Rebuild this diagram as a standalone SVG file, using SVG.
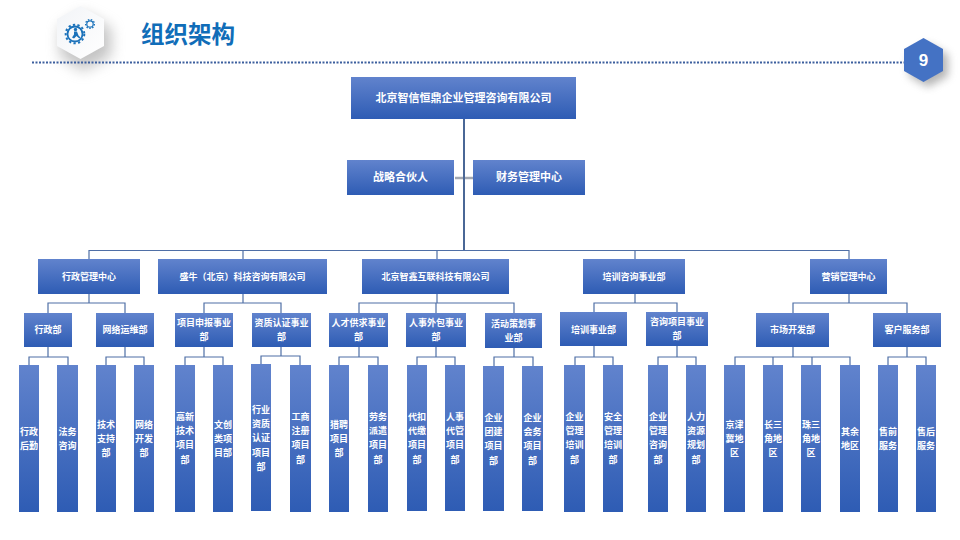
<svg xmlns="http://www.w3.org/2000/svg" width="960" height="540" viewBox="0 0 960 540">
<style>
text{font-family:"Noto Sans CJK SC","Noto Sans",sans-serif;font-weight:700;fill:#fff;text-anchor:middle}
.n{fill:url(#g)}
.t{font-size:11px}
.s{font-size:9px}
.c{fill:none;stroke:#4f6fa6;stroke-width:1.2}
.k{fill:none;stroke:#4a6796;stroke-width:2}
.i{fill:none;stroke:#1b72ba}
</style>
<defs>
<linearGradient id="g" x1="0" y1="0" x2="0" y2="1"><stop offset="0" stop-color="#6183cd"/><stop offset="1" stop-color="#2e5cb4"/></linearGradient>
<linearGradient id="h" x1="0" y1="0" x2="1" y2="1"><stop offset="0" stop-color="#f2f4f7"/><stop offset="1" stop-color="#ffffff"/></linearGradient>
<filter id="b" x="-50%" y="-50%" width="200%" height="200%"><feGaussianBlur stdDeviation="7"/></filter>
<filter id="b2" x="-50%" y="-50%" width="200%" height="200%"><feGaussianBlur stdDeviation="4"/></filter>
</defs>
<rect width="960" height="540" fill="#fff"/>
<g id="header">
<polygon points="83,13 111,28 111,56 83,71 60,56 60,28" fill="#8a8a8a" opacity=".5" filter="url(#b)"/>
<polygon points="80.500,6 104,19 104,46 80.500,59 57,46 57,19" fill="url(#h)"/>
<g id="logo-icon">
<circle cx="75" cy="34" r="7.500" class="i" stroke-width="1.800"/>
<circle cx="75" cy="34" r="9.300" class="i" stroke-width="2" stroke-dasharray="2.300 2.300"/>
<circle cx="90" cy="24" r="3.200" class="i" stroke-width="1.200"/>
<circle cx="90" cy="24" r="4.400" class="i" stroke-width="1.300" stroke-dasharray="1.500 1.500"/>
<circle cx="75.500" cy="29.500" r="1.700" fill="#1b72ba"/>
<path d="M74 31.500h3l1.500 4 2 2-1.200 1-2.800-2.500-2.500 2.500-2-1 2-3z" fill="#1b72ba"/>
</g>
<text x="188" y="43" font-size="23.500" style="fill:#106db8;font-size:23.500px">组织架构</text>
<line x1="32" y1="62.500" x2="905" y2="62.500" stroke="#3c5f9e" stroke-width="2" stroke-dasharray="2 1.500"/>
</g>
<g id="page-number">
<polygon points="928,44 948,55 948,76 928,87 909,76 909,55" fill="#777" opacity=".55" filter="url(#b2)"/>
<polygon points="923.500,38 943,49 943,71 923.500,82 904,71 904,49" fill="#4472c4"/>
<text x="923.500" y="66" style="font-size:17px;font-family:'Liberation Sans',sans-serif">9</text>
</g>
<g id="connectors">
<path d="M455 178H473" fill="none" stroke="#a3a8b2" stroke-width="2.500"/>
<path class="k" d="M464 119V250"/>
<path class="c" d="M89 259V250.500H849V259M243 250.500V259M437 250.500V259M635 250.500V259"/>
<path class="c" d="M89 294V303M48 313V303H125V313"/>
<path class="c" d="M243 294V303M204 313V303H281V313"/>
<path class="c" d="M437 294V303M359 313V303H514V313M436 303V313"/>
<path class="c" d="M635 294V303M594 312V303H677V312"/>
<path class="c" d="M849 294V303M793 313V303H907V313"/>
<path class="c" d="M48 347V357M29 365V357H68V365"/>
<path class="c" d="M125 347V357M106 365V357H144V365"/>
<path class="c" d="M204 347V357M185 365V357H223V365"/>
<path class="c" d="M281 347V356M261 364V356H300V365"/>
<path class="c" d="M359 347V357M339 365V357H378V365"/>
<path class="c" d="M436 347V357M417 365V357H455V365"/>
<path class="c" d="M514 348V357M494 366V357H533V366"/>
<path class="c" d="M594 346V357M575 365V357H613V365"/>
<path class="c" d="M677 346V357M658 365V357H696V365"/>
<path class="c" d="M793 347V357M735 365V357H850V365M773 357V365M812 357V365"/>
<path class="c" d="M907 347V357M888 365V357H926V365"/>
</g>
<g id="root"><rect class="n" x="351" y="77" width="225" height="42"/><text class="t" x="463.500" y="102">北京智信恒鼎企业管理咨询有限公司</text></g>
<g id="partner"><rect class="n" x="347" y="160" width="107" height="35"/><text class="t" x="400.500" y="181">战略合伙人</text></g>
<g id="finance"><rect class="n" x="473" y="160" width="112" height="35"/><text class="t" x="529" y="181">财务管理中心</text></g>

<g id="l2-admin"><rect class="n" x="38" y="259" width="102" height="35"/><text class="s" x="89" y="280">行政管理中心</text></g>
<g id="l2-shengniu"><rect class="n" x="158" y="259" width="169" height="35"/><text class="s" x="242.500" y="280">盛牛（北京）科技咨询有限公司</text></g>
<g id="l2-zhixin"><rect class="n" x="362" y="259" width="147" height="35"/><text class="s" x="435.500" y="280">北京智鑫互联科技有限公司</text></g>
<g id="l2-training"><rect class="n" x="583" y="259" width="102" height="35"/><text class="s" x="634" y="280">培训咨询事业部</text></g>
<g id="l2-marketing"><rect class="n" x="810" y="259" width="77" height="35"/><text class="s" x="848.500" y="280">营销管理中心</text></g>

<g id="l3-1"><rect class="n" x="24" y="313" width="48" height="34"/><text class="s" x="48" y="333">行政部</text></g>
<g id="l3-2"><rect class="n" x="96" y="313" width="58" height="34"/><text class="s" x="125" y="333">网络运维部</text></g>
<g id="l3-3"><rect class="n" x="175" y="313" width="58" height="34"/><text class="s" x="204" y="326">项目申报事业<tspan x="204" dy="14">部</tspan></text></g>
<g id="l3-4"><rect class="n" x="252" y="313" width="59" height="34"/><text class="s" x="281.500" y="326">资质认证事业<tspan x="281.500" dy="14">部</tspan></text></g>
<g id="l3-5"><rect class="n" x="329" y="313" width="59" height="34"/><text class="s" x="358.500" y="326">人才供求事业<tspan x="358.500" dy="14">部</tspan></text></g>
<g id="l3-6"><rect class="n" x="406" y="313" width="60" height="34"/><text class="s" x="436" y="326">人事外包事业<tspan x="436" dy="14">部</tspan></text></g>
<g id="l3-7"><rect class="n" x="485" y="313" width="57" height="35"/><text class="s" x="513.500" y="327">活动策划事<tspan x="513.500" dy="14">业部</tspan></text></g>
<g id="l3-8"><rect class="n" x="560" y="312" width="67" height="34"/><text class="s" x="593.500" y="333">培训事业部</text></g>
<g id="l3-9"><rect class="n" x="646" y="312" width="62" height="34"/><text class="s" x="677" y="325">咨询项目事业<tspan x="677" dy="14">部</tspan></text></g>
<g id="l3-10"><rect class="n" x="756" y="313" width="73" height="34"/><text class="s" x="792.500" y="333">市场开发部</text></g>
<g id="l3-11"><rect class="n" x="873" y="313" width="68" height="34"/><text class="s" x="907" y="333">客户服务部</text></g>

<g id="l4-1"><rect class="n" x="19" y="365" width="20" height="147"/><text class="s" x="29" y="435">行政<tspan x="29" dy="14">后勤</tspan></text></g>
<g id="l4-2"><rect class="n" x="57" y="365" width="21" height="147"/><text class="s" x="67.500" y="435">法务<tspan x="67.500" dy="14">咨询</tspan></text></g>
<g id="l4-3"><rect class="n" x="96" y="365" width="20" height="147"/><text class="s" x="106" y="428">技术<tspan x="106" dy="14">支持</tspan><tspan x="106" dy="14">部</tspan></text></g>
<g id="l4-4"><rect class="n" x="134" y="365" width="20" height="147"/><text class="s" x="144" y="428">网络<tspan x="144" dy="14">开发</tspan><tspan x="144" dy="14">部</tspan></text></g>
<g id="l4-5"><rect class="n" x="175" y="365" width="20" height="147"/><text class="s" x="185" y="420">高新<tspan x="185" dy="14">技术</tspan><tspan x="185" dy="14">项目</tspan><tspan x="185" dy="15">部</tspan></text></g>
<g id="l4-6"><rect class="n" x="213" y="365" width="20" height="147"/><text class="s" x="223" y="428">文创<tspan x="223" dy="14">类项</tspan><tspan x="223" dy="14">目部</tspan></text></g>
<g id="l4-7"><rect class="n" x="251" y="364" width="20" height="147"/><text class="s" x="261" y="413">行业<tspan x="261" dy="14">资质</tspan><tspan x="261" dy="14">认证</tspan><tspan x="261" dy="15">项目</tspan><tspan x="261" dy="14">部</tspan></text></g>
<g id="l4-8"><rect class="n" x="290" y="365" width="21" height="147"/><text class="s" x="300.500" y="420">工商<tspan x="300.500" dy="14">注册</tspan><tspan x="300.500" dy="14">项目</tspan><tspan x="300.500" dy="15">部</tspan></text></g>
<g id="l4-9"><rect class="n" x="329" y="365" width="20" height="147"/><text class="s" x="339" y="428">猎聘<tspan x="339" dy="14">项目</tspan><tspan x="339" dy="14">部</tspan></text></g>
<g id="l4-10"><rect class="n" x="368" y="365" width="20" height="147"/><text class="s" x="378" y="420">劳务<tspan x="378" dy="14">派遣</tspan><tspan x="378" dy="14">项目</tspan><tspan x="378" dy="15">部</tspan></text></g>
<g id="l4-11"><rect class="n" x="407" y="365" width="20" height="146"/><text class="s" x="417" y="420">代扣<tspan x="417" dy="14">代缴</tspan><tspan x="417" dy="14">项目</tspan><tspan x="417" dy="15">部</tspan></text></g>
<g id="l4-12"><rect class="n" x="445" y="365" width="20" height="146"/><text class="s" x="455" y="420">人事<tspan x="455" dy="14">代管</tspan><tspan x="455" dy="14">项目</tspan><tspan x="455" dy="15">部</tspan></text></g>
<g id="l4-13"><rect class="n" x="483" y="366" width="21" height="145"/><text class="s" x="493.500" y="421">企业<tspan x="493.500" dy="14">团建</tspan><tspan x="493.500" dy="14">项目</tspan><tspan x="493.500" dy="15">部</tspan></text></g>
<g id="l4-14"><rect class="n" x="522" y="366" width="21" height="145"/><text class="s" x="532.500" y="421">企业<tspan x="532.500" dy="14">会务</tspan><tspan x="532.500" dy="14">项目</tspan><tspan x="532.500" dy="15">部</tspan></text></g>
<g id="l4-15"><rect class="n" x="564" y="365" width="21" height="147"/><text class="s" x="574.500" y="420">企业<tspan x="574.500" dy="14">管理</tspan><tspan x="574.500" dy="14">培训</tspan><tspan x="574.500" dy="15">部</tspan></text></g>
<g id="l4-16"><rect class="n" x="603" y="365" width="20" height="147"/><text class="s" x="613" y="420">安全<tspan x="613" dy="14">管理</tspan><tspan x="613" dy="14">培训</tspan><tspan x="613" dy="15">部</tspan></text></g>
<g id="l4-17"><rect class="n" x="648" y="365" width="20" height="147"/><text class="s" x="658" y="420">企业<tspan x="658" dy="14">管理</tspan><tspan x="658" dy="14">咨询</tspan><tspan x="658" dy="15">部</tspan></text></g>
<g id="l4-18"><rect class="n" x="686" y="365" width="20" height="147"/><text class="s" x="696" y="420">人力<tspan x="696" dy="14">资源</tspan><tspan x="696" dy="14">规划</tspan><tspan x="696" dy="15">部</tspan></text></g>
<g id="l4-19"><rect class="n" x="724" y="365" width="21" height="147"/><text class="s" x="734.500" y="428">京津<tspan x="734.500" dy="14">冀地</tspan><tspan x="734.500" dy="14">区</tspan></text></g>
<g id="l4-20"><rect class="n" x="763" y="365" width="20" height="147"/><text class="s" x="773" y="428">长三<tspan x="773" dy="14">角地</tspan><tspan x="773" dy="14">区</tspan></text></g>
<g id="l4-21"><rect class="n" x="801" y="365" width="20" height="147"/><text class="s" x="811" y="428">珠三<tspan x="811" dy="14">角地</tspan><tspan x="811" dy="14">区</tspan></text></g>
<g id="l4-22"><rect class="n" x="840" y="365" width="20" height="147"/><text class="s" x="850" y="435">其余<tspan x="850" dy="14">地区</tspan></text></g>
<g id="l4-23"><rect class="n" x="878" y="365" width="20" height="147"/><text class="s" x="888" y="435">售前<tspan x="888" dy="14">服务</tspan></text></g>
<g id="l4-24"><rect class="n" x="916" y="365" width="20" height="147"/><text class="s" x="926" y="435">售后<tspan x="926" dy="14">服务</tspan></text></g>
</svg>
